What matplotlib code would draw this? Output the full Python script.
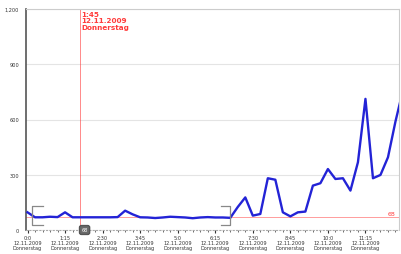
import matplotlib
matplotlib.use("Agg")
import matplotlib.pyplot as plt
from matplotlib.ticker import FuncFormatter, MultipleLocator

# values every 15 minutes, starting 12.11.2009 0:00
MINUTES = [15 * i for i in range(51)]
VALUES = [
    96, 69, 69, 72, 70, 96, 69, 69, 69, 69,
    69, 69, 70, 105, 85, 69, 68, 65, 68, 72,
    70, 68, 64, 68, 70, 68, 68, 66, 125, 177,
    78, 87, 281, 273, 96, 74, 96, 100, 241, 254,
    331, 277, 281, 214, 368, 712, 281, 299, 395, 590,
    760,
]
X_TICKS = [0, 75, 150, 225, 300, 375, 450, 525, 600, 675]
Y_TICKS = [0, 300, 600, 900, 1200]
DATE_LABEL = "12.11.2009"
DAY_LABEL = "Donnerstag"
CURSOR_TIME = 105
CURSOR_LABEL = "1:45"
THRESHOLD = 68
RANGE_START = 8
RANGE_END = 404

RED = "#ff3b3b"
BLUE = "#2323d6"
GRAY = "#888888"


def time_label(minutes, _pos=None):
    h, m = divmod(int(minutes), 60)
    return f"{h}:{m}\n{DATE_LABEL}\n{DAY_LABEL}"


fig = plt.figure(figsize=(4.01, 2.55), dpi=100)
ax = fig.add_axes([26 / 401, 1 - 231 / 255, 373 / 401, 221 / 255])

ax.plot(MINUTES, VALUES, color=BLUE, linewidth=1.7, solid_joinstyle="round", zorder=3)

ax.set_xlim(-3, 742)
ax.set_ylim(0, 1200)
ax.set_xticks(X_TICKS)
ax.xaxis.set_major_formatter(FuncFormatter(time_label))
ax.xaxis.set_minor_locator(MultipleLocator(15))
ax.set_yticks(Y_TICKS)
ax.yaxis.set_major_formatter(FuncFormatter(lambda v, p: f"{int(v):,}"))
ax.tick_params(axis="both", labelsize=3.6, colors="#333333", length=2, width=0.8)
ax.tick_params(axis="x", which="major", pad=1.5)
ax.tick_params(axis="x", which="minor", length=1.2, width=0.6, colors="#555555")
ax.tick_params(axis="y", length=0, pad=5)
for label in ax.get_xticklabels():
    label.set_linespacing(1.0)
ax.grid(axis="y", color="#e4e4e4", linewidth=0.8)
ax.set_axisbelow(True)

for side in ["top", "right"]:
    ax.spines[side].set_color("#cccccc")
    ax.spines[side].set_linewidth(0.8)
ax.spines["left"].set_color("#555555")
ax.spines["left"].set_linewidth(1.2)
ax.spines["bottom"].set_color("#aaaaaa")
ax.spines["bottom"].set_linestyle((0, (1, 2)))

# cursor lines
ax.axvline(CURSOR_TIME, color=RED, linewidth=0.7, alpha=0.6, zorder=2)
ax.axhline(THRESHOLD, color=RED, linewidth=0.7, alpha=0.5, zorder=2)
ax.text(CURSOR_TIME + 2, 1190, f"{CURSOR_LABEL}\n{DATE_LABEL}\n{DAY_LABEL}",
        color=RED, fontsize=5.2, fontweight="bold", va="top", ha="left", linespacing=1.1)
ax.text(735, THRESHOLD + 8, str(THRESHOLD), color=RED, fontsize=4.5,
        va="bottom", ha="right")
ax.text(CURSOR_TIME + 9, 0, str(THRESHOLD), color="white", fontsize=3.5,
        ha="center", va="center", zorder=5, clip_on=False,
        bbox=dict(boxstyle="round,pad=0.4", fc="#6b6b6b", ec="#555555"))

# range brackets
ax.plot([RANGE_START + 22, RANGE_START, RANGE_START, RANGE_START + 22],
        [130, 130, 27, 27], color=GRAY, linewidth=0.9, zorder=4)
ax.plot([RANGE_END - 18, RANGE_END, RANGE_END, RANGE_END - 18],
        [130, 130, 27, 27], color=GRAY, linewidth=0.9, zorder=4)

fig.savefig("out.png", dpi=100)
